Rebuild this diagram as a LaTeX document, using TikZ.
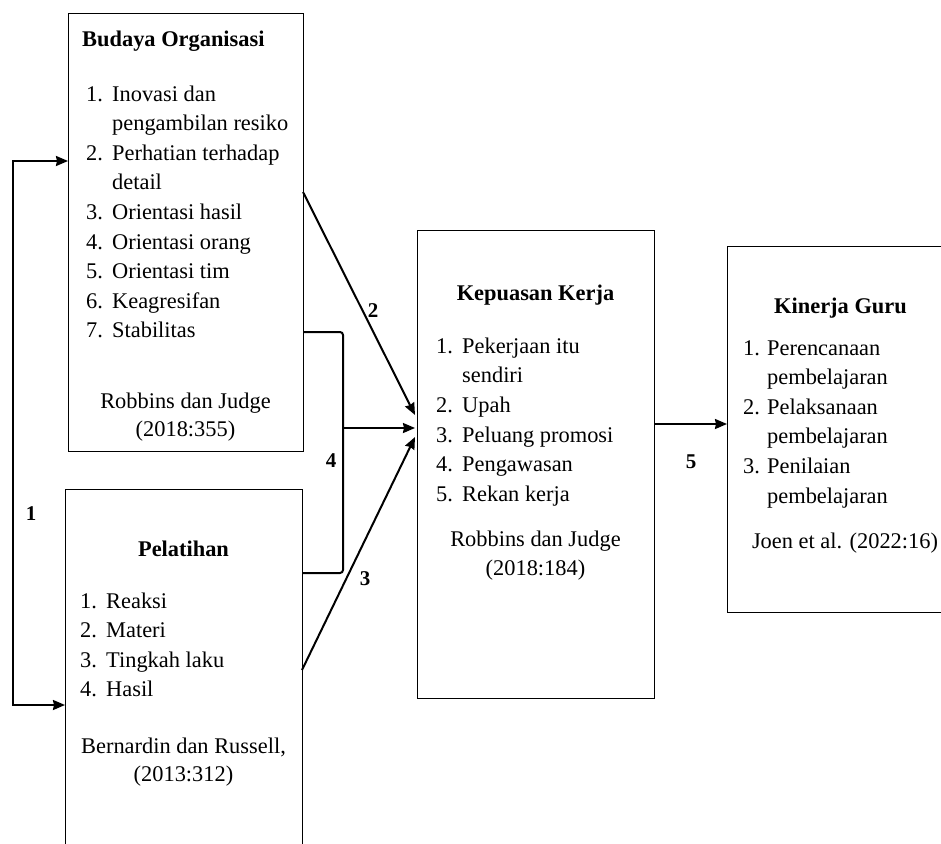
\documentclass[tikz,border=0pt]{standalone}
\usepackage{fontspec}
\setmainfont{Liberation Serif}
\usetikzlibrary{arrows.meta}
\newcommand\fsz{\fontsize{22.4}{29.6}\selectfont}
\newcommand\lsz{\fontsize{21}{25}\selectfont}
\newcommand\nb[2][26pt]{\makebox[#1][l]{#2}}
\begin{document}
\begin{tikzpicture}[x=1pt,y=-1pt,
  >={Stealth[length=12pt,width=10pt,inset=1pt]},
  box/.style={draw, line width=0.9pt, anchor=north west, inner sep=0pt, outer sep=0pt},
  arr/.style={line width=2pt, ->},
  lt/.style={anchor=base west, inner sep=0pt, font=\fsz},
  ct/.style={anchor=base, inner sep=0pt, font=\fsz},
  hd/.style={anchor=base, inner sep=0pt, font=\fsz\bfseries},
  lbl/.style={anchor=base, inner sep=0pt, font=\lsz\bfseries}]
\useasboundingbox (0,0) rectangle (941,843);
\fill[white] (0,0) rectangle (941,843);
\clip (0,0) rectangle (941,843);

% boxes
\node[box, minimum width=235pt, minimum height=438pt] (B1) at (68,13) {};
\node[box, minimum width=237pt, minimum height=420pt] (B2) at (65,489) {};
\node[box, minimum width=237pt, minimum height=468pt] (B3) at (417,230) {};
\node[box, minimum width=260pt, minimum height=366pt] (B4) at (727,246) {};

% box 1 text
\node[hd, anchor=base west] (h1) at (82,46.7) {Budaya Organisasi};
\node[lt] (a1)  at (86,101)   {\nb{1.}Inovasi dan};
\node[lt] (a1b) at (112,130.6) {pengambilan resiko};
\node[lt] (a2)  at (86,160.2) {\nb{2.}Perhatian terhadap};
\node[lt] (a2b) at (112,189.8) {detail};
\node[lt] (a3)  at (86,219.4) {\nb{3.}Orientasi hasil};
\node[lt] (a4)  at (86,249)   {\nb{4.}Orientasi orang};
\node[lt] (a5)  at (86,278.6) {\nb{5.}Orientasi tim};
\node[lt] (a6)  at (86,308.2) {\nb{6.}Keagresifan};
\node[lt] (a7)  at (86,337.8) {\nb{7.}Stabilitas};
\node[ct] (r1)  at (185.5,408) {Robbins dan Judge};
\node[ct] (r1b) at (185.5,436) {(2018:355)};

% box 2 text
\node[hd] (h2) at (183.5,556.7) {Pelatihan};
\node[lt] (b1) at (80,608)   {\nb{1.}Reaksi};
\node[lt] (b2) at (80,637.6) {\nb{2.}Materi};
\node[lt] (b3) at (80,667.2) {\nb{3.}Tingkah laku};
\node[lt] (b4) at (80,696.8) {\nb{4.}Hasil};
\node[ct] (r2)  at (183.5,753)   {Bernardin dan Russell,};
\node[ct] (r2b) at (183.5,781.7) {(2013:312)};

% box 3 text
\node[hd] (h3) at (535.5,300) {Kepuasan Kerja};
\node[lt] (c1)  at (436,353.3) {\nb{1.}Pekerjaan itu};
\node[lt] (c1b) at (462,382.9) {sendiri};
\node[lt] (c2)  at (436,412.5) {\nb{2.}Upah};
\node[lt] (c3)  at (436,442)   {\nb{3.}Peluang promosi};
\node[lt] (c4)  at (436,471.7) {\nb{4.}Pengawasan};
\node[lt] (c5)  at (436,501.3) {\nb{5.}Rekan kerja};
\node[ct] (r3)  at (535.5,546.7) {Robbins dan Judge};
\node[ct] (r3b) at (535.5,575)   {(2018:184)};

% box 4 text
\node[hd] (h4) at (840.5,313.3) {Kinerja Guru};
\node[lt] (d1)  at (743,355)   {\nb[24pt]{1.}Perencanaan};
\node[lt] (d1b) at (767,384.6) {pembelajaran};
\node[lt] (d2)  at (743,414.2) {\nb[24pt]{2.}Pelaksanaan};
\node[lt] (d2b) at (767,443.8) {pembelajaran};
\node[lt] (d3)  at (743,473.4) {\nb[24pt]{3.}Penilaian};
\node[lt] (d3b) at (767,503)   {pembelajaran};
\node[ct] (r4)  at (845,548)   {Joen et al. (2022:16)};

% connectors
\draw[line width=2pt, <->] ([yshift=-148pt]B1.north west) -- ++(-55,0) |- ([yshift=-216pt]B2.north west);
\draw[arr] ([yshift=-179pt]B1.north east) -- ([xshift=-2pt,yshift=-185pt]B3.north west);
\draw[line width=2pt, rounded corners=3pt] ([yshift=-319pt]B1.north east) -| ([xshift=41pt,yshift=-84pt]B2.north east) -- ([yshift=-84pt]B2.north east);
\coordinate (br) at (343,428);
\draw[arr] (br) -- ([xshift=-2pt,yshift=-198pt]B3.north west);
\draw[arr] ([yshift=-181pt]B2.north east) -- ([xshift=-2pt,yshift=-207pt]B3.north west);
\draw[arr] ([yshift=-194pt]B3.north east) -- ([yshift=-178pt]B4.north west);

% labels
\node[lbl] (l1) at (31,520) {1};
\node[lbl] (l2) at (373,317) {2};
\node[lbl] (l4) at (331,467) {4};
\node[lbl] (l3) at (365,585) {3};
\node[lbl] (l5) at (691,468) {5};
\end{tikzpicture}
\end{document}
